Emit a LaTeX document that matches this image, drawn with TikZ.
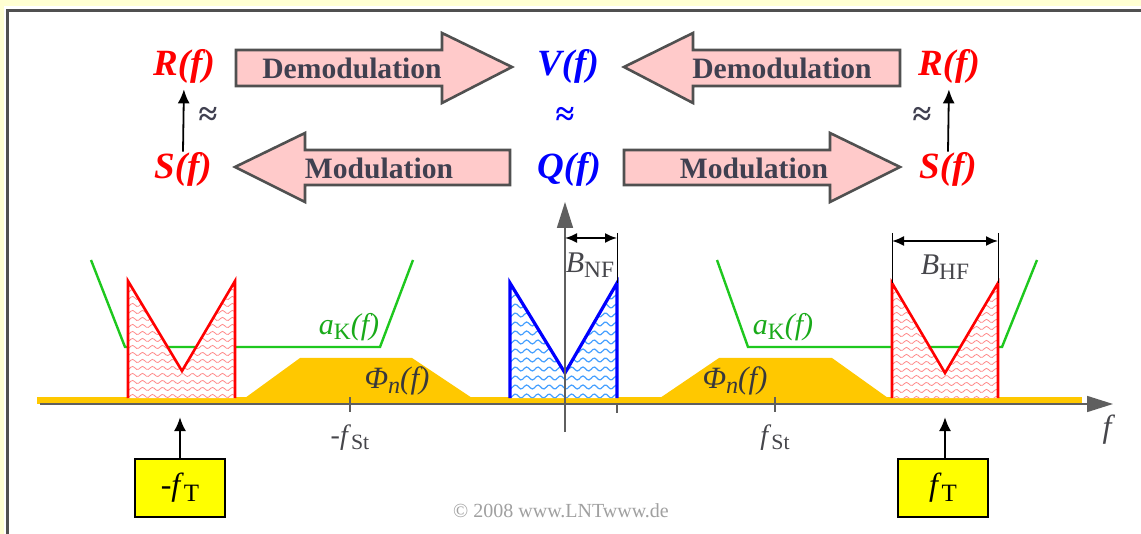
\documentclass[tikz,border=0pt]{standalone}
\usepackage{fontspec}
\setmainfont{Liberation Serif}
\usepackage{graphicx}
\usepackage{tikz}
\usetikzlibrary{arrows.meta,positioning,calc}
\definecolor{PaleYellow}{RGB}{255,255,210}
\definecolor{FrameGray}{RGB}{80,80,80}
\definecolor{ArrowPink}{RGB}{255,202,202}
\definecolor{ArrowText}{RGB}{64,64,80}
\definecolor{AxisGray}{RGB}{95,95,95}
\definecolor{NoiseOrange}{RGB}{255,200,0}
\definecolor{ChannelGreen}{RGB}{30,200,30}
\definecolor{CarrierYellow}{RGB}{255,255,0}
\definecolor{WaveRed}{RGB}{255,140,140}
\definecolor{WaveBlue}{RGB}{70,160,255}
\definecolor{LabelGray}{RGB}{70,70,75}
\definecolor{CopyGray}{RGB}{160,160,160}
\newcommand{\lowidx}[1]{\raisebox{-0.35ex}{\scalebox{0.78}{#1}}}
\tikzset{
  bigarrow/.style={fill=ArrowPink, draw=FrameGray, line width=1.3pt},
  arrowtext/.style={font=\fontsize{14.8}{16}\selectfont\bfseries, text=ArrowText, inner sep=0pt},
  spec/.style={font=\fontsize{18.5}{20}\selectfont\bfseries\itshape, inner sep=0pt},
  approx/.style={font=\fontsize{17}{18}\selectfont\bfseries, inner sep=0pt},
  axislabel/.style={font=\fontsize{14}{16}\selectfont, text=LabelGray, inner sep=0pt},
  carrier/.style={draw=black, line width=1.3pt, fill=CarrierYellow, minimum width=45pt, minimum height=29pt, inner sep=0pt, font=\fontsize{16}{18}\selectfont},
  axis/.style={AxisGray, line width=0.8pt, -{Triangle[length=13pt,width=8pt]}},
  dimarrow/.style={{Latex[length=6pt,width=5pt]}-{Latex[length=6pt,width=5pt]}, line width=0.9pt}
}

\begin{document}
\begin{tikzpicture}[x=0.5pt, y=-0.5pt]
  \useasboundingbox (0,0) rectangle (1141,534);
  % frame
  \fill[PaleYellow] (0,0) rectangle (1141,534);
  \fill[white] (3.5,6.5) rectangle (1141,534);
  \draw[FrameGray, line width=1.3pt] (7.5,534) -- (7.5,10.5) -- (1141,10.5);

  % upper part: spectra and modulation arrows
  \node[spec, red] (RL) at (184,66) {R(f)};
  \node[spec, red] (SL) at (183,169) {S(f)};
  \node[spec, blue] (V) at (568,66) {V(f)};
  \node[spec, blue] (Q) at (569,169) {Q(f)};
  \node[spec, red] (RR) at (949,66) {R(f)};
  \node[spec, red] (SR) at (948,169) {S(f)};
  \draw[-{Latex[length=7pt,width=6pt]}, line width=0.9pt, shorten >=3pt] (SL.north) -- (RL.south);
  \draw[-{Latex[length=7pt,width=6pt]}, line width=0.9pt, shorten >=3pt] (SR.north) -- (RR.south);
  \node[approx, ArrowText] (apL) at (208,116) {≈};
  \node[approx, blue] (apM) at (565,116) {≈};
  \node[approx, ArrowText] (apR) at (922,116) {≈};

  \draw[bigarrow] (236,50) -- (442,50) -- (442,33) -- (512,67) -- (442,103) -- (442,86) -- (236,86) -- cycle;
  \node[arrowtext] (demodL) at (352,68) {Demodulation};
  \draw[bigarrow] (900,50) -- (693,50) -- (693,33) -- (624,67) -- (693,103) -- (693,86) -- (900,86) -- cycle;
  \node[arrowtext] (demodR) at (782,68) {Demodulation};
  \draw[bigarrow] (510,150) -- (305,150) -- (305,133) -- (235,167) -- (305,202) -- (305,185) -- (510,185) -- cycle;
  \node[arrowtext] (modL) at (379,168) {Modulation};
  \draw[bigarrow] (624,150) -- (830,150) -- (830,133) -- (900,167) -- (830,202) -- (830,185) -- (624,185) -- cycle;
  \node[arrowtext] (modR) at (754,168) {Modulation};

  % channel attenuation
  \draw[ChannelGreen, line width=1.2pt] (91,260) -- (125,347) -- (380,347) -- (413,260);
  \draw[ChannelGreen, line width=1.2pt] (717,260) -- (748,347) -- (1002,347) -- (1037,260);

  % noise PSD
  \fill[NoiseOrange] (245,398) -- (300,358) -- (412,358) -- (472,398) -- cycle;
  \fill[NoiseOrange] (660,398) -- (719,358) -- (832,358) -- (888,398) -- cycle;
  \fill[NoiseOrange] (37,397) rectangle (1082,403.5);

  % bandpass spectrum at -fT
  \fill[white] (128,398) -- (128,281) -- (182,371) -- (235,281) -- (235,398) -- cycle;
  \begin{scope}
    \clip (128,398) -- (128,281) -- (182,371) -- (235,281) -- (235,398) -- cycle;
    \foreach \yy in {284,291,...,398}
      \draw[WaveRed, line width=0.4pt] plot[domain=0:115, samples=60, smooth] (\x+125,{\yy+1.6*sin(36*\x)});
  \end{scope}
  \draw[red, line width=1.3pt] (128,398) -- (128,281) -- (182,371) -- (235,281) -- (235,398);

  % bandpass spectrum at +fT
  \fill[white] (892,398) -- (892,283) -- (945,373) -- (998,283) -- (998,398) -- cycle;
  \begin{scope}
    \clip (892,398) -- (892,283) -- (945,373) -- (998,283) -- (998,398) -- cycle;
    \foreach \yy in {286,293,...,398}
      \draw[WaveRed, line width=0.4pt] plot[domain=0:115, samples=60, smooth] (\x+889,{\yy+1.6*sin(36*\x)});
  \end{scope}
  \draw[red, line width=1.3pt] (892,398) -- (892,283) -- (945,373) -- (998,283) -- (998,398);

  % lowpass spectrum
  \fill[white] (510,398) -- (510,283) -- (565,373) -- (617,283) -- (617,398) -- cycle;
  \begin{scope}
    \clip (510,398) -- (510,283) -- (565,373) -- (617,283) -- (617,398) -- cycle;
    \foreach \yy in {288,297,...,398}
      \draw[WaveBlue, line width=0.6pt] plot[domain=0:115, samples=60, smooth] (\x+507,{\yy+2*sin(32*\x)});
  \end{scope}
  \draw[blue, line width=1.6pt] (510,398) -- (510,283) -- (565,373) -- (617,283) -- (617,398);

  % axes
  \coordinate (x0) at (40,404);
  \coordinate (x1) at (1113,404);
  \coordinate (y0) at (565,432);
  \coordinate (y1) at (565,202);
  \draw[axis] (x0) -- (x1);
  \draw[axis] (y0) -- (y1);
  \node[font=\fontsize{16}{18}\selectfont\itshape, text=LabelGray] (flab) at (1107,430) {f};
  \draw[AxisGray, line width=0.8pt] (350,397) -- (350,412);
  \draw[AxisGray, line width=0.8pt] (775,397) -- (775,412);
  \draw[AxisGray, line width=0.8pt] (617,404) -- (617,413);
  \node[axislabel] (fStL) at (350,438) {-\textit{f}\lowidx{St}};
  \node[axislabel] (fStR) at (775,438) {\textit{f}\lowidx{St}};
  \node[font=\fontsize{15}{17}\selectfont\itshape, text=ChannelGreen!85!black, inner sep=0pt] (aKL) at (349,327) {a\lowidx{\upshape K}(f)};
  \node[font=\fontsize{15}{17}\selectfont\itshape, text=ChannelGreen!85!black, inner sep=0pt] (aKR) at (783,327) {a\lowidx{\upshape K}(f)};
  \node[font=\fontsize{15.5}{17}\selectfont\itshape, text=LabelGray!80!black, inner sep=0pt] (PhiL) at (397,381) {Φ\lowidx{n}(f)};
  \node[font=\fontsize{15.5}{17}\selectfont\itshape, text=LabelGray!80!black, inner sep=0pt] (PhiR) at (735,381) {Φ\lowidx{n}(f)};

  % bandwidths
  \draw[black, line width=0.5pt] (617,233) -- (617,283);
  \draw[black, line width=0.5pt] (892,233) -- (892,283);
  \draw[black, line width=0.5pt] (998,233) -- (998,283);
  \coordinate (bn0) at (565,238);
  \coordinate (bn1) at (617,238);
  \coordinate (bh0) at (892,241);
  \coordinate (bh1) at (998,241);
  \draw[dimarrow] (bn0) -- (bn1);
  \draw[dimarrow] (bh0) -- (bh1);
  \node[font=\fontsize{15}{17}\selectfont, text=LabelGray, inner sep=0pt] (BNF) at (590,265) {\textit{B}\lowidx{NF}};
  \node[font=\fontsize{15}{17}\selectfont, text=LabelGray, inner sep=0pt] (BHF) at (945,267) {\textit{B}\lowidx{HF}};

  % carriers
  \node[carrier] (fTL) at (180,488) {-\textit{f}\lowidx{T}};
  \node[carrier] (fTR) at (943,488) {\textit{f}\lowidx{T}};
  \coordinate (tipL) at (180,417);
  \coordinate (tipR) at (945,417);
  \draw[-{Latex[length=7pt,width=6pt]}, line width=1.1pt] (fTL.north) -- (tipL);
  \draw[-{Latex[length=7pt,width=6pt]}, line width=1.1pt] (fTR.north -| tipR) -- (tipR);

  \node[font=\fontsize{10}{12}\selectfont, text=CopyGray] (copy) at (561,511) {© 2008 www.LNTwww.de};
\end{tikzpicture}
\end{document}
